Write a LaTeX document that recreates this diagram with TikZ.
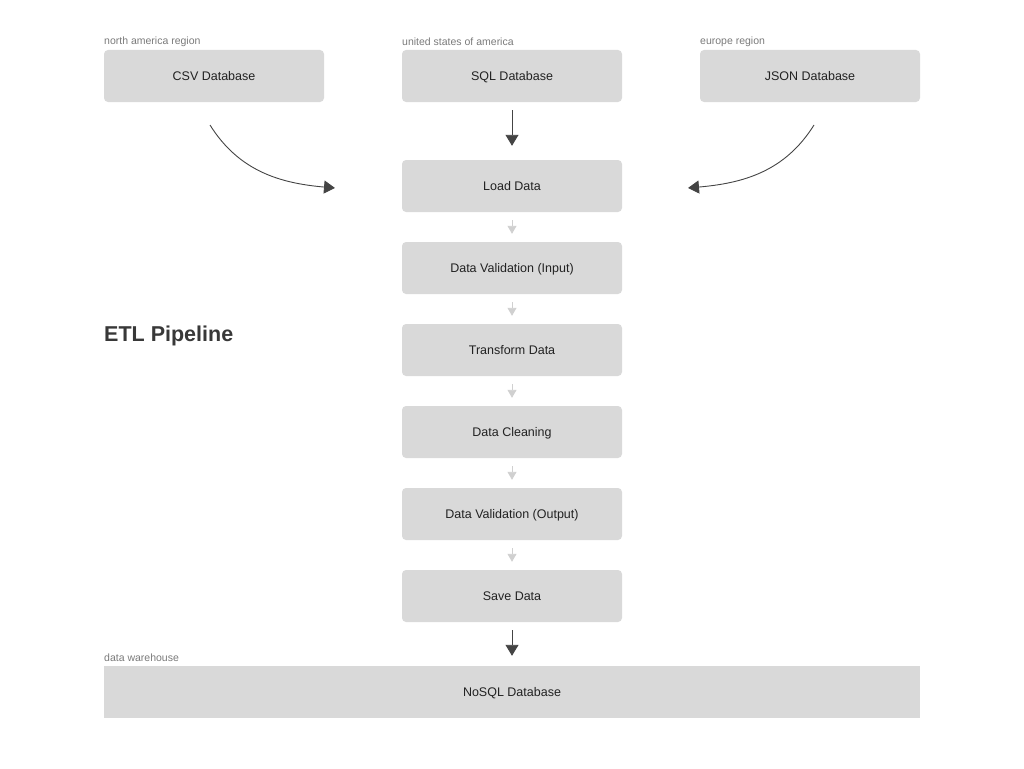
\documentclass[tikz,border=0pt]{standalone}
\usepackage{fontspec}
\setmainfont{Liberation Sans}
\usepackage{xcolor}
\usetikzlibrary{arrows.meta}

\definecolor{boxgray}{HTML}{D9D9D9}
\definecolor{textdark}{HTML}{222222}
\definecolor{labelgray}{HTML}{7A7A7A}
\definecolor{arrowdark}{HTML}{444444}
\definecolor{arrowlight}{HTML}{D0D0D0}

\tikzset{
	box/.style = {rectangle, rounded corners = 4pt, fill = boxgray, text = textdark,
		minimum width = 220pt, minimum height = 52pt, inner sep = 0pt, text height = 10pt, text depth = 1pt,
		font = \fontsize{12.5}{14}\selectfont},
	region/.style = {anchor = west, text = labelgray, inner sep = 0pt, font = \fontsize{10.5}{12}\selectfont},
	darrow/.style = {arrowdark, line width = 0.9pt, -{Triangle[width = 13pt, length = 11pt]}},
	larrow/.style = {arrowlight, line width = 0.9pt, -{Triangle[width = 9pt, length = 8pt]}, shorten <= 8pt, shorten >= 8pt}
}

\begin{document}
\begin{tikzpicture}[x = 1pt, y = -1pt]
	\useasboundingbox (0,0) rectangle (1024,768);
	\def\midx{512};

	% sources
	\node [box] (csv) at (214,76) {CSV Database};
	\node [box] (sql) at (\midx,76) {SQL Database};
	\node [box] (json) at (810,76) {JSON Database};
	\node [region] at (104,42) {north america region};
	\node [region] at (402,42) {united states of america};
	\node [region] at (700,42) {europe region};

	% pipeline steps
	\node [box] (load) at (\midx,186) {Load Data};
	\node [box] (valin) at (\midx,268) {Data Validation (Input)};
	\node [box] (trans) at (\midx,350) {Transform Data};
	\node [box] (clean) at (\midx,432) {Data Cleaning};
	\node [box] (valout) at (\midx,514) {Data Validation (Output)};
	\node [box] (save) at (\midx,596) {Save Data};

	% target
	\node [box, rounded corners = 0pt, minimum width = 816pt] (nosql) at (\midx,692) {NoSQL Database};
	\node [region] at (104,658) {data warehouse};

	\node [anchor = west, inner sep = 0pt, text = textdark!90!white, font = \fontsize{21.5}{24}\selectfont\bfseries] (title) at (104,336) {ETL Pipeline};

	% arrows
	\coordinate (csvout) at (210,125);
	\coordinate (csvin) at (335,188);
	\coordinate (jsonout) at (814,125);
	\coordinate (jsonin) at (688,188);
	\draw [darrow] (csvout) to [out = -58, in = 175] (csvin);
	\draw [darrow] (jsonout) to [out = -122, in = 5] (jsonin);
	\draw [darrow, shorten <= 8pt, shorten >= 14pt] (sql) -- (load);

	\draw [larrow] (load) -- (valin);
	\draw [larrow] (valin) -- (trans);
	\draw [larrow] (trans) -- (clean);
	\draw [larrow] (clean) -- (valout);
	\draw [larrow] (valout) -- (save);

	\draw [darrow, shorten <= 8pt, shorten >= 10pt] (save) -- (nosql);
\end{tikzpicture}
\end{document}
